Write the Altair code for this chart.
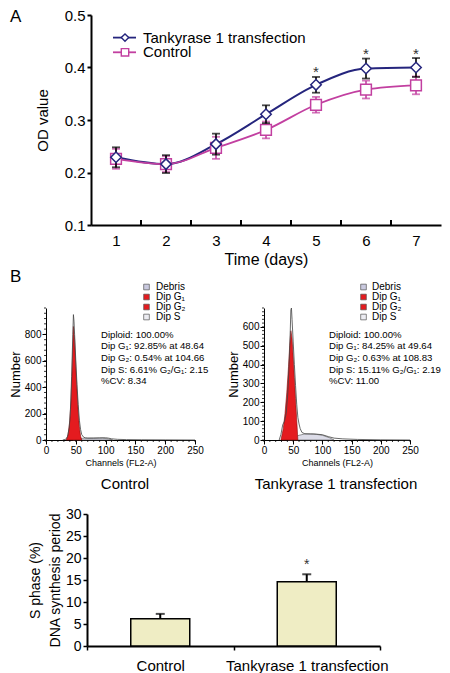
import altair as alt
import pandas as pd

FONT = "Liberation Sans"
NAVY = "#25257d"
MAG = "#c23fa0"
RED = "#e41b1f"
BARFILL = "#efedc4"
U = alt.Undefined

# ---------------- Panel A: OD value over time ----------------
days = [1, 2, 3, 4, 5, 6, 7]
tank_od = [0.229, 0.216, 0.254, 0.311, 0.367, 0.398, 0.400]
tank_err = [0.019, 0.017, 0.020, 0.017, 0.015, 0.019, 0.018]
ctrl_od = [0.226, 0.216, 0.247, 0.281, 0.329, 0.358, 0.366]
ctrl_err = [0.019, 0.015, 0.021, 0.016, 0.015, 0.017, 0.017]
star_days = [5, 6, 7]
star_od = [0.391, 0.425, 0.425]
a_x_labels = [1, 2, 3, 4, 5, 6, 7]
a_x_ticks = [1.5, 2.5, 3.5, 4.5, 5.5, 6.5]
a_y_ticks = [0.1, 0.2, 0.3, 0.4, 0.5]

# ---------------- Panel B: flow cytometry histograms ----------------
ctl_ch = [28, 33, 36, 39, 41, 43, 45, 46, 47, 48, 50, 52, 54, 56, 58, 60, 63, 66, 70, 80, 90, 100, 105, 110, 120, 135, 160, 200, 250]
ctl_cnt = [0, 5, 25, 90, 230, 480, 800, 950, 900, 800, 600, 420, 270, 150, 80, 40, 22, 16, 14, 14, 16, 17, 14, 9, 5, 3, 2, 1, 0]
ctl_g1_ch = [34, 37, 40, 42, 44, 46, 48, 50, 52, 54, 56, 58, 60]
ctl_g1_cnt = [0, 40, 150, 300, 560, 860, 760, 560, 380, 220, 100, 30, 0]
ctl_s_ch = [45, 55, 65, 80, 95, 105, 112]
ctl_s_cnt = [0, 10, 14, 15, 14, 8, 0]

tk_ch = [26, 29, 32, 35, 38, 41, 43, 45, 46, 47, 48, 50, 52, 54, 56, 58, 60, 62, 65, 70, 80, 90, 100, 110, 120, 135, 160, 200, 250]
tk_cnt = [0, 30, 80, 100, 140, 260, 400, 580, 690, 700, 640, 520, 400, 290, 190, 120, 85, 60, 40, 33, 32, 31, 28, 18, 10, 6, 3, 1, 0]
tk_g1_ch = [29, 33, 36, 39, 42, 44, 46, 48, 50, 52, 54, 56, 58]
tk_g1_cnt = [0, 60, 140, 250, 390, 500, 580, 540, 440, 330, 220, 110, 0]
tk_s_ch = [40, 50, 60, 70, 85, 100, 112, 120]
tk_s_cnt = [0, 12, 25, 32, 32, 25, 12, 0]

hist_x_ticks = [0, 50, 100, 150, 200, 250]
hist_x_minor = list(range(0, 251, 10))
ctl_y_ticks = [0, 200, 400, 600, 800]
ctl_y_minor = list(range(0, 1001, 40))
tk_y_ticks = [0, 100, 200, 300, 400, 500, 600]
tk_y_minor = list(range(0, 701, 20))

legend_items = ["Debris", "Dip G\u2081", "Dip G\u2082", "Dip S"]
legend_fill = ["#c9c9df", RED, RED, "#ececf2"]
ctl_stats = ["Diploid: 100.00%", "Dip G\u2081: 92.85% at 48.64", "Dip G\u2082: 0.54% at 104.66",
             "Dip S: 6.61% G\u2082/G\u2081: 2.15", "%CV: 8.34"]
tk_stats = ["Diploid: 100.00%", "Dip G\u2081: 84.25% at 49.64", "Dip G\u2082: 0.63% at 108.83",
            "Dip S: 15.11% G\u2082/G\u2081: 2.19", "%CV: 11.00"]

# ---------------- S phase bar chart ----------------
groups = ["Control", "Tankyrase 1 transfection"]
s_phase = [6.2, 14.6]
s_err = [1.1, 1.7]
bar_star = [18.4]
bar_y_ticks = [0, 5, 10, 15, 20, 25, 30]

# ---------------- layout (pixels inside the drawing area) ----------------
W, H = 434, 665
A_X, A_Y = [83, 433], [216, 6]
HL_X, HR_X, H_Y = [38, 187], [256, 402], [431, 299]
B_X, B_Y = [79, 372], [637, 505]

one = pd.DataFrame({"k": [0]})


def txt(text, x, y, size, align="left", color="black", baseline="middle", **kw):
    return alt.Chart(one).mark_text(text=text, fontSize=size, align=align, baseline=baseline,
                                    color=color, font=FONT, **kw).encode(x=alt.value(x), y=alt.value(y))


# ---------- Panel A ----------
dfA = pd.DataFrame({"day": days, "tank": tank_od, "ctrl": ctrl_od,
                    "terr": tank_err, "cerr": ctrl_err})
dfA["tank_lo"] = dfA["tank"] - dfA["terr"]
dfA["tank_hi"] = dfA["tank"] + dfA["terr"]
dfA["ctrl_lo"] = dfA["ctrl"] - dfA["cerr"]
dfA["ctrl_hi"] = dfA["ctrl"] + dfA["cerr"]

sxA = alt.Scale(domain=[0.5, 7.5], range=A_X)
syA = alt.Scale(domain=[0.1, 0.5], range=A_Y)
axA_x = alt.Axis(orient="bottom", offset=A_Y[0] - H, values=a_x_labels, ticks=False,
                 labelPadding=8, labelFontSize=15, labelFlush=False, format="d", domainWidth=2,
                 title="Time (days)", titleFontSize=16, titlePadding=3)
axA_y = alt.Axis(orient="left", offset=-A_X[0], values=a_y_ticks, format=".1f", tickSize=4,
                 tickWidth=2, domainWidth=2, labelPadding=2, labelFontSize=15, labelFlush=False,
                 title="OD value", titleFontSize=15, titlePadding=14)


def AX(f, axis=U):
    return alt.X(f"{f}:Q", scale=sxA, axis=axis)


def AY(f, axis=U):
    return alt.Y(f"{f}:Q", scale=syA, axis=axis)


baseA = alt.Chart(dfA)
tank_line = baseA.mark_line(color=NAVY, strokeWidth=2, interpolate="monotone").encode(
    x=AX("day", axA_x), y=AY("tank", axA_y))
ctrl_line = baseA.mark_line(color=MAG, strokeWidth=1.8, interpolate="monotone").encode(
    x=AX("day"), y=AY("ctrl"))


def errs(lo, hi, color):
    stem = baseA.mark_rule(color=color, strokeWidth=1.6).encode(x=AX("day"), y=AY(lo), y2=alt.Y2(hi))
    c1 = baseA.mark_tick(color=color, thickness=1.8, size=8, orient="horizontal").encode(x=AX("day"), y=AY(lo))
    c2 = baseA.mark_tick(color=color, thickness=1.8, size=8, orient="horizontal").encode(x=AX("day"), y=AY(hi))
    return [stem, c1, c2]


ctrl_pts = baseA.mark_point(shape="square", size=115, filled=True, fill="white", stroke=MAG,
                            strokeWidth=1.5, opacity=1).encode(x=AX("day"), y=AY("ctrl"))
tank_pts = baseA.mark_point(shape="diamond", size=110, filled=True, fill="white", stroke=NAVY,
                            strokeWidth=1.5, opacity=1).encode(x=AX("day"), y=AY("tank"))
stars = alt.Chart(pd.DataFrame({"day": star_days, "od": star_od})).mark_text(
    text="*", fontSize=15, color="#333333", font=FONT, baseline="middle").encode(x=AX("day"), y=AY("od"))
a_ticks = alt.Chart(pd.DataFrame({"t": a_x_ticks})).mark_rule(color="black", strokeWidth=2).encode(
    x=AX("t"), y=alt.value(A_Y[0]), y2=alt.value(A_Y[0] - 5))

leg_y1, leg_y2 = 28.6, 43.3
legA = [
    alt.Chart(one).mark_rule(color=NAVY, strokeWidth=1.8).encode(x=alt.value(105), x2=alt.value(128), y=alt.value(leg_y1)),
    alt.Chart(one).mark_point(shape="diamond", size=55, filled=True, fill="white", stroke=NAVY, strokeWidth=1.4, opacity=1).encode(x=alt.value(117), y=alt.value(leg_y1)),
    txt("Tankyrase 1 transfection", 135, leg_y1, 15),
    alt.Chart(one).mark_rule(color=MAG, strokeWidth=1.8).encode(x=alt.value(105), x2=alt.value(128), y=alt.value(leg_y2)),
    alt.Chart(one).mark_point(shape="square", size=55, filled=True, fill="white", stroke=MAG, strokeWidth=1.4, opacity=1).encode(x=alt.value(117), y=alt.value(leg_y2)),
    txt("Control", 135, leg_y2, 15),
]

panelA = alt.layer(tank_line, ctrl_line, a_ticks, *errs("ctrl_lo", "ctrl_hi", MAG), ctrl_pts,
                   *errs("tank_lo", "tank_hi", "black"), tank_pts, stars)


# ---------- Panel B histograms ----------
def hist(ch, cnt, g1_ch, g1_cnt, s_ch, s_cnt, xr, ydom, yticks, yminor):
    sx = alt.Scale(domain=[0, 250], range=xr)
    sy = alt.Scale(domain=ydom, range=H_Y)
    axx = alt.Axis(orient="bottom", offset=H_Y[0] - H, values=hist_x_ticks, tickSize=4, tickWidth=1,
                   domainWidth=1, labelFontSize=10, labelPadding=1, labelFlush=False,
                   title="Channels (FL2-A)", titleFontSize=9, titlePadding=3)
    axy = alt.Axis(orient="left", offset=-xr[0], values=yticks, tickSize=4, tickWidth=1,
                   domainWidth=1, labelFontSize=10, labelPadding=1, labelFlush=False,
                   title="Number", titleFontSize=13, titlePadding=2)
    s_area = alt.Chart(pd.DataFrame({"ch": s_ch, "n": s_cnt})).mark_area(
        fill="#dcdce8", stroke="#555555", strokeWidth=0.6, opacity=1).encode(
        x=alt.X("ch:Q", scale=sx, axis=axx), y=alt.Y("n:Q", scale=sy, axis=axy))
    g1_area = alt.Chart(pd.DataFrame({"ch": g1_ch, "n": g1_cnt})).mark_area(
        fill=RED, stroke="#8a0c0c", strokeWidth=0.6, opacity=1).encode(
        x=alt.X("ch:Q", scale=sx), y=alt.Y("n:Q", scale=sy))
    outline = alt.Chart(pd.DataFrame({"ch": ch, "n": cnt})).mark_line(
        color="#444444", strokeWidth=0.8).encode(
        x=alt.X("ch:Q", scale=sx), y=alt.Y("n:Q", scale=sy))
    xm = alt.Chart(pd.DataFrame({"v": hist_x_minor})).mark_rule(color="black", strokeWidth=0.8).encode(
        x=alt.X("v:Q", scale=sx), y=alt.value(H_Y[0]), y2=alt.value(H_Y[0] + 2))
    ym = alt.Chart(pd.DataFrame({"v": yminor})).mark_rule(color="black", strokeWidth=0.8).encode(
        y=alt.Y("v:Q", scale=sy), x=alt.value(xr[0]), x2=alt.value(xr[0] - 2))
    return alt.layer(s_area, g1_area, outline, xm, ym)


def hist_legend(sq_x, tx_x):
    df = pd.DataFrame({"item": legend_items})
    sy = alt.Scale(domain=legend_items, range=[278, 308], type="point", padding=0)
    fill = alt.Fill("item:N", scale=alt.Scale(domain=legend_items, range=legend_fill), legend=None)
    sq = alt.Chart(df).mark_square(size=32, stroke="#555555", strokeWidth=0.7, opacity=1).encode(
        x=alt.value(sq_x), y=alt.Y("item:N", scale=sy, axis=None), fill=fill)
    tx = alt.Chart(df).mark_text(fontSize=10, align="left", baseline="middle", font=FONT).encode(
        x=alt.value(tx_x), y=alt.Y("item:N", scale=sy, axis=None), text="item:N")
    return alt.layer(sq, tx)


histL = hist(ctl_ch, ctl_cnt, ctl_g1_ch, ctl_g1_cnt, ctl_s_ch, ctl_s_cnt, HL_X, [0, 1000], ctl_y_ticks, ctl_y_minor)
histR = hist(tk_ch, tk_cnt, tk_g1_ch, tk_g1_cnt, tk_s_ch, tk_s_cnt, HR_X, [0, 700], tk_y_ticks, tk_y_minor)
legL = hist_legend(138.5, 148)
legR = hist_legend(355.5, 364)
statsL = txt(ctl_stats, 93, 320.5, 9.6, baseline="top", lineHeight=11.7)
statsR = txt(tk_stats, 321, 320.5, 9.6, baseline="top", lineHeight=11.7)
capL = txt("Control", 117, 475, 15, align="center")
capR = txt("Tankyrase 1 transfection", 328, 475, 15, align="center")

# ---------- S phase bars ----------
dfB = pd.DataFrame({"grp": groups, "val": s_phase, "err": s_err})
dfB["top"] = dfB["val"] + dfB["err"]
sxB = alt.Scale(domain=groups, range=B_X, paddingInner=0, paddingOuter=0)
syB = alt.Scale(domain=[0, 30], range=B_Y)
axBx = alt.Axis(orient="bottom", offset=B_Y[0] - H, tickBand="extent", tickSize=4, tickWidth=1.5,
                domainWidth=2, labelFontSize=15, labelPadding=8, labelAngle=0, title=None)
axBy = alt.Axis(orient="left", offset=-B_X[0], values=bar_y_ticks, tickSize=4, tickWidth=1.5,
                domainWidth=2, labelFontSize=14, labelPadding=2, labelFlush=False,
                title=["S phase (%)", "DNA synthesis period"], titleFontSize=14,
                titleLineHeight=20, titlePadding=3)
baseB = alt.Chart(dfB)
bars = baseB.mark_bar(width=59, fill=BARFILL, stroke="black", strokeWidth=1.5).encode(
    x=alt.X("grp:N", scale=sxB, axis=axBx), y=alt.Y("val:Q", scale=syB, axis=axBy))
b_stem = baseB.mark_rule(color="black", strokeWidth=2).encode(
    x=alt.X("grp:N", scale=sxB), y=alt.Y("val:Q", scale=syB), y2=alt.Y2("top"))
b_cap = baseB.mark_tick(color="black", thickness=2, size=9, orient="horizontal").encode(
    x=alt.X("grp:N", scale=sxB), y=alt.Y("top:Q", scale=syB))
b_star = alt.Chart(pd.DataFrame({"grp": groups[1:], "y": bar_star})).mark_text(
    text="*", fontSize=14, color="#333333", font=FONT, baseline="middle").encode(
    x=alt.X("grp:N", scale=sxB), y=alt.Y("y:Q", scale=syB))
panelBar = alt.layer(bars, b_stem, b_cap, b_star)

labA = txt("A", 2, 8, 17)
labB = txt("B", 2, 268, 17)

chart = alt.layer(
    panelA, *legA, labA, histL, histR, legL, legR, statsL, statsR, capL, capR, labB, panelBar
).resolve_scale(x="independent", y="independent").properties(
    width=W, height=H, padding=0
).configure(font=FONT).configure_view(stroke=None).configure_axis(
    grid=False, labelFont=FONT, titleFont=FONT, labelColor="black", titleColor="black",
    domainColor="black", tickColor="black", titleFontWeight="normal"
)

chart.save("out.html", embed_options={"renderer": "svg", "actions": False})
